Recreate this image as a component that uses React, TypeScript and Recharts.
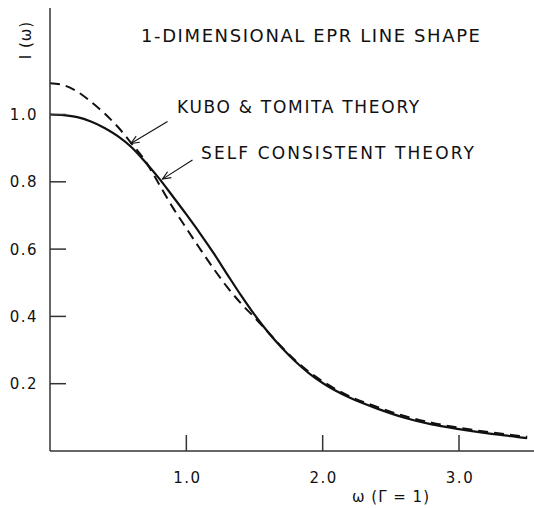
import { LineChart, Line, XAxis, YAxis, ReferenceLine, Customized } from "recharts";

// omega values (Gamma = 1) and the two line shapes
const omega = [0, 0.1, 0.2, 0.3, 0.4, 0.5, 0.6, 0.7, 0.8, 0.9, 1.0, 1.1, 1.2, 1.3, 1.4, 1.5, 1.6, 1.7, 1.8, 1.9, 2.0, 2.2, 2.4, 2.6, 2.8, 3.0, 3.2, 3.4, 3.5];
const selfConsistent = [1.0, 0.998, 0.992, 0.979, 0.96, 0.935, 0.902, 0.858, 0.81, 0.757, 0.703, 0.647, 0.588, 0.525, 0.463, 0.405, 0.353, 0.307, 0.266, 0.231, 0.202, 0.158, 0.126, 0.099, 0.079, 0.065, 0.053, 0.043, 0.038];
const kuboTomita = [1.093, 1.087, 1.068, 1.038, 1.003, 0.962, 0.913, 0.861, 0.793, 0.724, 0.662, 0.601, 0.542, 0.487, 0.439, 0.397, 0.353, 0.309, 0.269, 0.235, 0.207, 0.162, 0.131, 0.104, 0.084, 0.069, 0.057, 0.047, 0.042];

const xTicks = [1, 2, 3];
const yTicks = [0.2, 0.4, 0.6, 0.8, 1.0];

// arrow annotations: [tail, tip] in data units
const kuboArrow = [{ x: 0.862, y: 0.979 }, { x: 0.593, y: 0.914 }];
const selfArrow = [{ x: 1.045, y: 0.865 }, { x: 0.825, y: 0.808 }];

const data = omega.map((w, i) => ({ w, sc: selfConsistent[i], kt: kuboTomita[i] }));

const FONT = "DejaVu Sans";
const INK = "#111";

function XTick({ x, y, payload }: any) {
  return (
    <g>
      <line x1={x} x2={x} y1={y} y2={y - 16} stroke="#333" strokeWidth={1.5} />
      <text x={x + 1} y={y + 32} textAnchor="middle" fontFamily={FONT} fontSize={15} letterSpacing={1.5} fill={INK}>
        {payload.value.toFixed(1)}
      </text>
    </g>
  );
}

function YTick({ x, y, payload }: any) {
  return (
    <g>
      <line x1={x} x2={x + 16} y1={y} y2={y} stroke="#333" strokeWidth={1.5} />
      <text x={x - 12} y={y + 5.5} textAnchor="end" fontFamily={FONT} fontSize={15} letterSpacing={1.5} fill={INK}>
        {payload.value.toFixed(1)}
      </text>
    </g>
  );
}

function Arrow(props: any) {
  const { x1, y1, x2, y2 } = props;
  const a = Math.atan2(y1 - y2, x1 - x2);
  const len = 9;
  const spread = 0.4;
  const p1 = [x2 + len * Math.cos(a + spread), y2 + len * Math.sin(a + spread)];
  const p2 = [x2 + len * Math.cos(a - spread), y2 + len * Math.sin(a - spread)];
  return (
    <g stroke={INK} strokeWidth={1.1} fill="none">
      <line x1={x1} y1={y1} x2={x2} y2={y2} />
      <polyline points={`${p1[0]},${p1[1]} ${x2},${y2} ${p2[0]},${p2[1]}`} />
    </g>
  );
}

function Labels() {
  return (
    <g fontFamily={FONT} fill={INK}>
      <text x={141} y={42} fontSize={18} letterSpacing={1.6}>1-DIMENSIONAL EPR LINE SHAPE</text>
      <text x={177} y={113} fontSize={17} letterSpacing={1.7}>KUBO &amp; TOMITA THEORY</text>
      <text x={201} y={159} fontSize={17} letterSpacing={2.1}>SELF CONSISTENT THEORY</text>
      <text x={391} y={502} fontSize={15} textAnchor="middle" letterSpacing={1}>ω (Γ = 1)</text>
      <text x={31} y={40} fontSize={15} textAnchor="middle" transform="rotate(-90 31 40)" letterSpacing={1}>I (ω)</text>
    </g>
  );
}

export default function App() {
  return (
    <div style={{ position: "absolute", left: 0, top: 0, background: "#fff" }}>
      <LineChart width={534} height={508} data={data} margin={{ top: 8, right: 0, bottom: 0, left: 0 }}>
        <XAxis
          dataKey="w"
          type="number"
          domain={[0, 3.55]}
          ticks={xTicks}
          height={57}
          stroke="#333"
          strokeWidth={1.5}
          tickSize={0}
          tickMargin={0}
          tickLine={false}
          tick={<XTick />}
          allowDataOverflow
        />
        <YAxis
          type="number"
          domain={[0, 1.3165]}
          ticks={yTicks}
          width={50}
          stroke="#333"
          strokeWidth={1.5}
          tickSize={0}
          tickMargin={0}
          tickLine={false}
          tick={<YTick />}
          allowDataOverflow
        />
        <Line dataKey="kt" type="monotone" stroke={INK} strokeWidth={2} strokeDasharray="10 6" dot={false} isAnimationActive={false} />
        <Line dataKey="sc" type="monotone" stroke={INK} strokeWidth={2.2} dot={false} isAnimationActive={false} />
        <ReferenceLine segment={kuboArrow} shape={<Arrow />} ifOverflow="visible" />
        <ReferenceLine segment={selfArrow} shape={<Arrow />} ifOverflow="visible" />
        <Customized component={<Labels />} />
      </LineChart>
    </div>
  );
}
